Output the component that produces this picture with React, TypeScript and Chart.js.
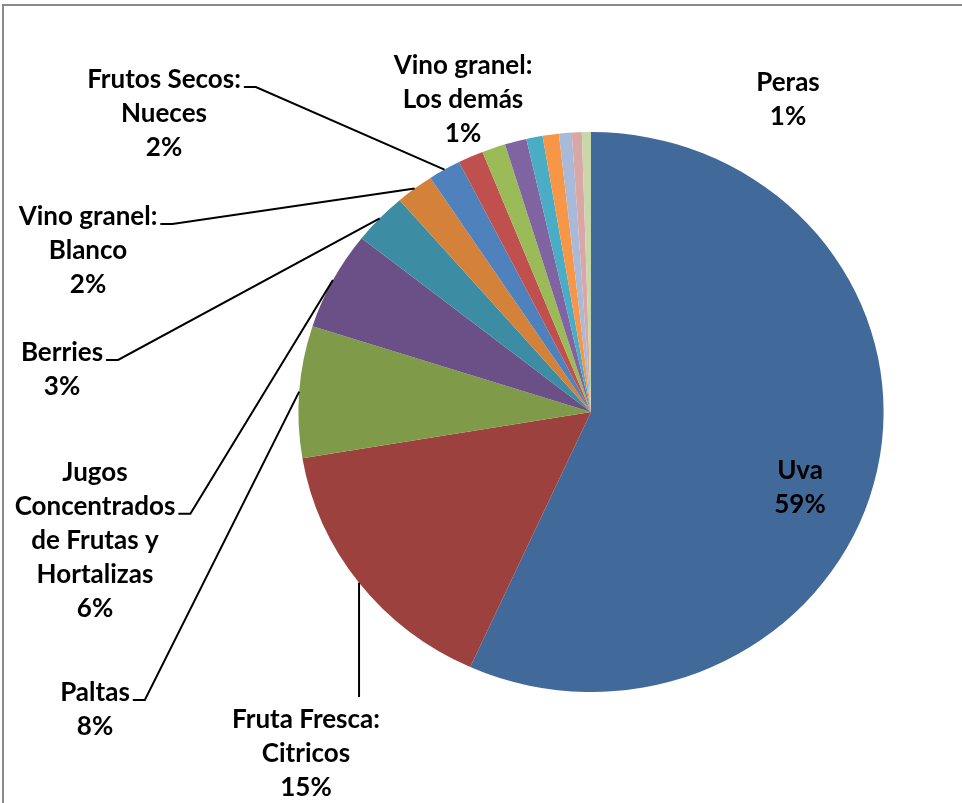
import React, { useEffect, useRef } from 'react';
import { Chart, registerables } from 'chart.js';

Chart.register(...registerables);

// ---- data ----
const categories = [
  'Uva',
  'Fruta Fresca:\nCitricos',
  'Paltas',
  'Jugos\nConcentrados\nde Frutas y\nHortalizas',
  'Berries',
  'Vino granel:\nBlanco',
  'Frutos Secos:\nNueces',
  'Vino granel:\nLos demás',
  'Otros',
  'Otros',
  'Otros',
  'Otros',
  'Otros',
  'Otros',
  'Peras',
];
// slice sizes
const shares = [56.8, 15.6, 7.6, 5.7, 3.0, 2.1, 1.8, 1.4, 1.3, 1.2, 0.9, 0.9, 0.7, 0.55, 0.5];
// percentage texts as printed on the chart
const pctLabels = ['59%', '15%', '8%', '6%', '3%', '2%', '2%', '1%', '', '', '', '', '', '', '1%'];
const sliceColors = [
  '#416A9B', '#9D413E', '#7F9A48', '#6A5087', '#3C8CA3', '#D4823A',
  '#4F81BD', '#C0504D', '#9BBB59', '#8064A2', '#4BACC6', '#F79646',
  '#A9BAD9', '#D9A7A6', '#C8D7AA',
];

// ---- label layout (text block centres, leader style) ----
type LabelPos = { i: number; x: number; y: number; leader: 'none' | 'right' | 'top'; line?: number };
const labelLayout: LabelPos[] = [
  { i: 0, x: 800, y: 471, leader: 'none' },
  { i: 1, x: 306, y: 720, leader: 'top' },
  { i: 2, x: 95, y: 693, leader: 'right', line: 0 },
  { i: 3, x: 95, y: 473, leader: 'right', line: 1 },
  { i: 4, x: 62, y: 353, leader: 'right', line: 0 },
  { i: 5, x: 88, y: 217, leader: 'right', line: 0 },
  { i: 6, x: 164, y: 80, leader: 'right', line: 0 },
  { i: 7, x: 463, y: 66, leader: 'none' },
  { i: 14, x: 788, y: 83, leader: 'none' },
];

const SX = 1.045; // horizontal stretch of the pie (reference is slightly elliptical)
const LINE_H = 33.8;
const FONT = 'bold 26px Lato';

const stretchPlugin = {
  id: 'stretchPie',
  beforeDatasetsDraw(chart: any) {
    const a = chart.getDatasetMeta(0).data[0];
    const ctx = chart.ctx;
    ctx.save();
    ctx.translate(a.x, a.y);
    ctx.scale(SX, 1);
    ctx.translate(-a.x, -a.y);
  },
  afterDatasetsDraw(chart: any) {
    chart.ctx.restore();
  },
};

const labelPlugin = {
  id: 'pieLabels',
  afterDraw(chart: any) {
    const ctx = chart.ctx;
    const meta = chart.getDatasetMeta(0);
    ctx.save();
    ctx.font = FONT;
    ctx.fillStyle = '#000';
    ctx.textAlign = 'center';
    ctx.textBaseline = 'middle';
    ctx.strokeStyle = '#000';
    ctx.lineWidth = 2;
    for (const L of labelLayout) {
      const arc = meta.data[L.i];
      const lines = categories[L.i].split('\n').concat([pctLabels[L.i]]);
      lines.forEach((t, k) => ctx.fillText(t, L.x, L.y + k * LINE_H));
      const mid = (arc.startAngle + arc.endAngle) / 2;
      const ax = arc.x + Math.cos(mid) * arc.outerRadius * SX;
      const ay = arc.y + Math.sin(mid) * arc.outerRadius;
      if (L.leader === 'right') {
        const li = L.line || 0;
        const w = ctx.measureText(lines[li]).width;
        const y0 = L.y + li * LINE_H + 7;
        const x0 = L.x + w / 2 + 3;
        ctx.beginPath();
        ctx.moveTo(x0, y0);
        ctx.lineTo(x0 + 12, y0);
        ctx.lineTo(ax, ay);
        ctx.stroke();
      } else if (L.leader === 'top') {
        ctx.beginPath();
        ctx.moveTo(ax, ay);
        ctx.lineTo(ax, L.y - 23);
        ctx.stroke();
      }
    }
    ctx.restore();
  },
};

export default function App() {
  const ref = useRef<HTMLCanvasElement>(null);
  useEffect(() => {
    if (!ref.current) return;
    const chart = new Chart(ref.current, {
      type: 'pie',
      data: {
        labels: categories,
        datasets: [
          {
            data: shares,
            backgroundColor: sliceColors,
            borderWidth: 0,
            hoverOffset: 0,
            offset: 0,
          },
        ],
      },
      options: {
        responsive: false,
        animation: false,
        devicePixelRatio: 1,
        events: [],
        layout: { padding: { left: 311, right: 91, top: 132, bottom: 111 } },
        plugins: { legend: { display: false }, tooltip: { enabled: false }, title: { display: false } },
      },
      plugins: [stretchPlugin, labelPlugin],
    });
    return () => chart.destroy();
  }, []);
  return (
    <div style={{ position: 'fixed', left: 0, top: 0, width: 962, height: 803, background: '#fff', overflow: 'hidden' }}>
      <canvas ref={ref} width={962} height={803} style={{ position: 'absolute', left: 0, top: 0 }} />
      <div
        style={{
          position: 'absolute',
          left: 2,
          top: 4,
          width: 1000,
          height: 900,
          borderTop: '2px solid #8a8a8a',
          borderLeft: '2px solid #8a8a8a',
          boxSizing: 'border-box',
          pointerEvents: 'none',
        }}
      />
    </div>
  );
}
